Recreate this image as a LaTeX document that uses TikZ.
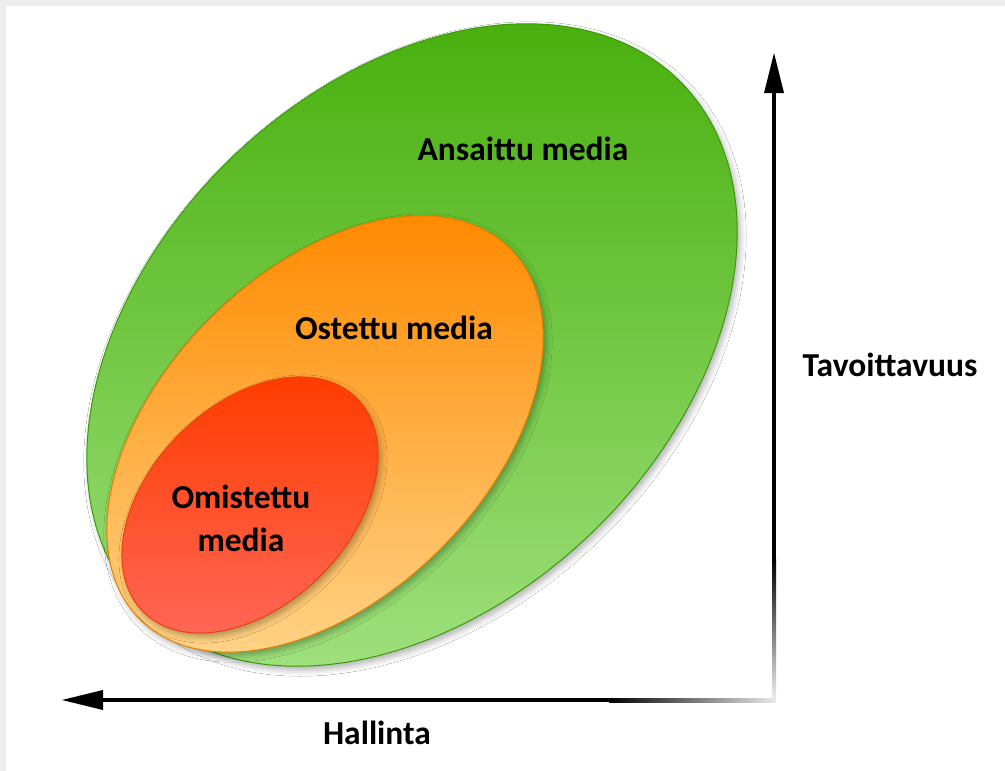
\documentclass[tikz,border=0pt]{standalone}
\usepackage{fontspec}
\setmainfont{Carlito}
\usetikzlibrary{shadows.blur}
\definecolor{gtop}{HTML}{49B00E}
\definecolor{gbot}{HTML}{9EE07C}
\definecolor{gedge}{HTML}{3A9A0A}
\definecolor{otop}{HTML}{FF8A00}
\definecolor{obot}{HTML}{FFD285}
\definecolor{oedge}{HTML}{E67E00}
\definecolor{rtop}{HTML}{FF3C00}
\definecolor{rbot}{HTML}{FF6655}
\definecolor{redge}{HTML}{E8400A}
% tilted ellipse: centre (#1,#2), semi-axes #3 and #4, tilt #5 degrees
\newcommand\tiltedellipse[5]{%
  plot[domain=0:355, samples=72, smooth cycle, variable=\t]
    ({#1 + #3*cos(#5)*cos(\t) + #4*sin(#5)*sin(\t)},
     {#2 - #3*sin(#5)*cos(\t) + #4*cos(#5)*sin(\t)})}
\begin{document}
\begin{tikzpicture}[x=1pt,y=-1pt,
  lbl/.style={font=\fontsize{33.5}{43}\selectfont\bfseries, text=black, inner sep=0pt, align=center},
  blob/.style={line width=1pt, blur shadow={shadow xshift=3pt, shadow yshift=-4pt, shadow blur radius=6pt, shadow opacity=30}},
]
\useasboundingbox (0,0) rectangle (1005,771);
% page frame
\fill[black!7] (0,0) rectangle (1005,771);
\fill[white] (6,6) rectangle (1005,771);

% earned media
\path[blob, draw=gedge, top color=gtop, bottom color=gbot]
  \tiltedellipse{412}{345}{376}{260}{44};

% paid media
\path[blob, draw=oedge, top color=otop, bottom color=obot]
  \tiltedellipse{325}{434}{262}{163}{45};

% owned media
\path[blob, draw=redge, top color=rtop, bottom color=rbot]
  \tiltedellipse{250}{505}{151}{100}{45};

% labels
\node[lbl] (ansaittu) at (523,149) {Ansaittu media};
\node[lbl] (ostettu) at (394,328) {Ostettu media};
\node[lbl] (omistettu) at (241,518) {Omistettu\\media};
\node[lbl] (tavoitt) at (890,365) {Tavoittavuus};
\node[lbl] (hallinta) at (377,733) {Hallinta};

% vertical axis: reach
\coordinate (vtip) at (774,53);
\coordinate (vfoot) at (774,697);
\fill[black] (772,92) rectangle (776,560);
\shade[top color=black, bottom color=black!8] (772,559) rectangle (776,697);
\fill[black] (vtip) -- (764,93) -- (784,93) -- cycle;

% horizontal axis: control
\coordinate (htip) at (62,700);
\coordinate (hfoot) at (776,700);
\fill[black] (101,698) rectangle (610,702);
\shade[left color=black, right color=black!8] (609,698) rectangle (776,702);
\fill[black] (htip) -- (103,690) -- (103,710) -- cycle;
\end{tikzpicture}
\end{document}
